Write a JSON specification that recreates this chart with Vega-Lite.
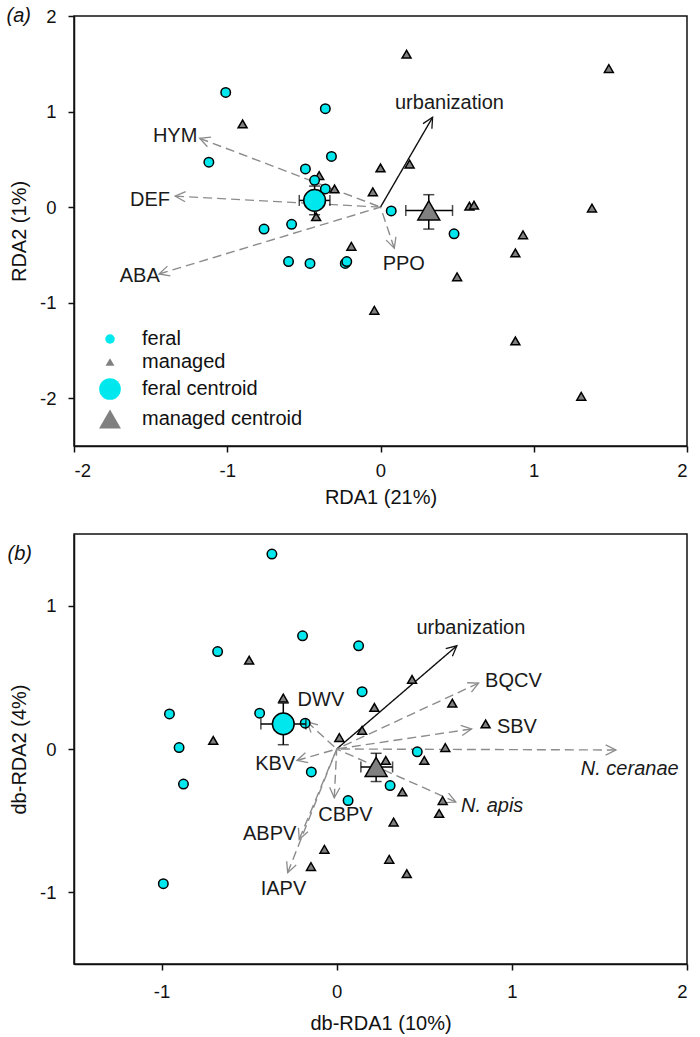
{
  "$schema": "https://vega.github.io/schema/vega-lite/v6.json",
  "padding": {"left": 5, "top": 5, "right": 5, "bottom": 3},
  "background": "white",
  "spacing": 24,
  "resolve": {
    "scale": {"shape": "independent", "fill": "independent", "size": "independent"},
    "legend": {"shape": "independent", "fill": "independent", "size": "independent"}
  },
  "datasets": {
    "ptsA": [
      {"grp": "managed", "x": -0.90, "y": 0.87}, {"grp": "managed", "x": -0.40, "y": 0.33}, {"grp": "managed", "x": -0.30, "y": 0.19},
      {"grp": "managed", "x": -0.42, "y": -0.10}, {"grp": "managed", "x": 0.17, "y": 1.60}, {"grp": "managed", "x": 1.49, "y": 1.45},
      {"grp": "managed", "x": 0.00, "y": 0.41}, {"grp": "managed", "x": 0.19, "y": 0.45}, {"grp": "managed", "x": -0.05, "y": 0.16},
      {"grp": "managed", "x": 0.58, "y": 0.01}, {"grp": "managed", "x": 0.61, "y": 0.02}, {"grp": "managed", "x": 1.38, "y": -0.01},
      {"grp": "managed", "x": 0.93, "y": -0.29}, {"grp": "managed", "x": -0.19, "y": -0.41}, {"grp": "managed", "x": 0.88, "y": -0.48},
      {"grp": "managed", "x": 0.50, "y": -0.73}, {"grp": "managed", "x": -0.04, "y": -1.08}, {"grp": "managed", "x": 0.88, "y": -1.40},
      {"grp": "managed", "x": 1.31, "y": -1.98},
      {"grp": "feral", "x": -1.01, "y": 1.20}, {"grp": "feral", "x": -0.36, "y": 1.03}, {"grp": "feral", "x": -1.12, "y": 0.47},
      {"grp": "feral", "x": -0.32, "y": 0.53}, {"grp": "feral", "x": -0.49, "y": 0.40}, {"grp": "feral", "x": -0.43, "y": 0.28},
      {"grp": "feral", "x": -0.36, "y": 0.19}, {"grp": "feral", "x": -0.76, "y": -0.23}, {"grp": "feral", "x": -0.58, "y": -0.18},
      {"grp": "feral", "x": 0.07, "y": -0.04}, {"grp": "feral", "x": -0.60, "y": -0.57}, {"grp": "feral", "x": -0.46, "y": -0.59},
      {"grp": "feral", "x": -0.23, "y": -0.59}, {"grp": "feral", "x": -0.22, "y": -0.57}, {"grp": "feral", "x": 0.48, "y": -0.28}
    ],
    "centA": [
      {"grp": "feral centroid", "x": -0.43, "y": 0.07, "xlo": -0.53, "xhi": -0.33, "ylo": -0.08, "yhi": 0.22},
      {"grp": "managed centroid", "x": 0.315, "y": -0.035, "xlo": 0.165, "xhi": 0.47, "ylo": -0.23, "yhi": 0.13}
    ],
    "arrA": [
      {"name": "urbanization", "x": 0.34, "y": 0.94}, {"name": "HYM", "x": -1.18, "y": 0.72},
      {"name": "DEF", "x": -1.34, "y": 0.115}, {"name": "ABA", "x": -1.445, "y": -0.70}, {"name": "PPO", "x": 0.09, "y": -0.43}
    ],
    "labA": [
      {"name": "urbanization", "x": 0.45, "y": 1.093}, {"name": "HYM", "x": -1.34, "y": 0.744},
      {"name": "DEF", "x": -1.504, "y": 0.073}, {"name": "ABA", "x": -1.571, "y": -0.723}, {"name": "PPO", "x": 0.152, "y": -0.594}
    ],
    "ptsB": [
      {"grp": "managed", "x": -0.50, "y": 0.62}, {"grp": "managed", "x": -0.305, "y": 0.355}, {"grp": "managed", "x": -0.705, "y": 0.06},
      {"grp": "managed", "x": 0.015, "y": 0.08}, {"grp": "managed", "x": 0.43, "y": 0.485}, {"grp": "managed", "x": 0.215, "y": 0.29},
      {"grp": "managed", "x": 0.145, "y": 0.13}, {"grp": "managed", "x": 0.28, "y": -0.08}, {"grp": "managed", "x": 0.375, "y": -0.30},
      {"grp": "managed", "x": 0.66, "y": 0.32}, {"grp": "managed", "x": 0.85, "y": 0.175}, {"grp": "managed", "x": 0.62, "y": 0.01},
      {"grp": "managed", "x": 0.50, "y": -0.08}, {"grp": "managed", "x": 0.605, "y": -0.36}, {"grp": "managed", "x": 0.585, "y": -0.45},
      {"grp": "managed", "x": 0.325, "y": -0.51}, {"grp": "managed", "x": 0.30, "y": -0.77}, {"grp": "managed", "x": 0.40, "y": -0.87},
      {"grp": "managed", "x": -0.07, "y": -0.70}, {"grp": "managed", "x": -0.147, "y": -0.82},
      {"grp": "feral", "x": -0.37, "y": 1.36}, {"grp": "feral", "x": -0.195, "y": 0.79}, {"grp": "feral", "x": -0.68, "y": 0.68},
      {"grp": "feral", "x": -0.955, "y": 0.245}, {"grp": "feral", "x": -0.90, "y": 0.01}, {"grp": "feral", "x": -0.44, "y": 0.25},
      {"grp": "feral", "x": -0.18, "y": 0.18}, {"grp": "feral", "x": 0.125, "y": 0.72}, {"grp": "feral", "x": 0.145, "y": 0.40},
      {"grp": "feral", "x": 0.46, "y": -0.02}, {"grp": "feral", "x": -0.145, "y": -0.16}, {"grp": "feral", "x": 0.305, "y": -0.255},
      {"grp": "feral", "x": 0.065, "y": -0.36}, {"grp": "feral", "x": -0.875, "y": -0.245}, {"grp": "feral", "x": -0.99, "y": -0.94}
    ],
    "centB": [
      {"grp": "feral centroid", "x": -0.305, "y": 0.175, "xlo": -0.433, "xhi": -0.176, "ylo": 0.03, "yhi": 0.32},
      {"grp": "managed centroid", "x": 0.225, "y": -0.125, "xlo": 0.138, "xhi": 0.319, "ylo": -0.227, "yhi": -0.03}
    ],
    "arrB": [
      {"name": "urbanization", "x": 0.686, "y": 0.72}, {"name": "BQCV", "x": 0.81, "y": 0.46},
      {"name": "SBV", "x": 0.77, "y": 0.14}, {"name": "N. ceranae", "x": 1.594, "y": -0.007},
      {"name": "N. apis", "x": 0.68, "y": -0.37}, {"name": "KBV", "x": -0.227, "y": -0.08},
      {"name": "CBPV", "x": -0.014, "y": -0.34}, {"name": "ABPV", "x": -0.214, "y": -0.63},
      {"name": "IAPV", "x": -0.28, "y": -0.863}, {"name": "DWV", "x": -0.17, "y": 0.19}
    ],
    "labB": [
      {"name": "urbanization", "x": 0.766, "y": 0.846}, {"name": "BQCV", "x": 1.009, "y": 0.473},
      {"name": "SBV", "x": 1.029, "y": 0.156}, {"name": "N. ceranae", "x": 1.673, "y": -0.14},
      {"name": "N. apis", "x": 0.888, "y": -0.397}, {"name": "KBV", "x": -0.351, "y": -0.105},
      {"name": "CBPV", "x": 0.05, "y": -0.462}, {"name": "ABPV", "x": -0.383, "y": -0.594},
      {"name": "IAPV", "x": -0.304, "y": -0.975}, {"name": "DWV", "x": -0.09, "y": 0.345}
    ]
  },
  "vconcat": [
    {
      "width": 613,
      "height": 430,
      "title": {"text": "(a)", "anchor": "start", "frame": "bounds", "offset": -19, "dx": -3, "fontSize": 20, "fontStyle": "italic", "fontWeight": "normal", "font": "Liberation Sans", "color": "#111"},
      "layer": [
        {
          "data": {"name": "arrA"},
          "mark": {"type": "rule", "strokeWidth": 1.4},
          "encoding": {
            "x": {"field": "x", "type": "quantitative", "title": "RDA1 (21%)", "scale": {"domain": [-2, 2], "nice": false, "zero": false},
                  "axis": {"values": [-2, -1, 0, 1, 2], "labelExpr": "datum.value + ''", "labelPadding": 9, "titlePadding": 8}},
            "y": {"field": "y", "type": "quantitative", "title": "RDA2 (1%)", "scale": {"domain": [-2.5, 2], "nice": false, "zero": false},
                  "axis": {"values": [-2, -1, 0, 1, 2], "labelExpr": "datum.value + ''", "labelPadding": 12, "titlePadding": 10}},
            "x2": {"datum": 0},
            "y2": {"datum": 0},
            "stroke": {"condition": {"test": "datum.name === 'urbanization'", "value": "#111"}, "value": "#8c8c8c"},
            "strokeDash": {"condition": {"test": "datum.name === 'urbanization'", "value": [1, 0]}, "value": [9, 5]}
          }
        },
        {
          "data": {"name": "arrA"},
          "transform": [{"calculate": "atan2(datum.x * 153.25, datum.y * 95.56) * 180 / PI", "as": "ang"}],
          "mark": {"type": "point", "shape": "M-0.5,1L0,0L0.5,1", "filled": false, "size": 420, "strokeWidth": 1.3, "opacity": 1},
          "encoding": {
            "x": {"field": "x", "type": "quantitative", "title": "RDA1 (21%)", "scale": {"domain": [-2, 2], "nice": false, "zero": false}},
            "y": {"field": "y", "type": "quantitative", "title": "RDA2 (1%)", "scale": {"domain": [-2.5, 2], "nice": false, "zero": false}},
            "angle": {"field": "ang", "type": "quantitative", "scale": null},
            "stroke": {"condition": {"test": "datum.name === 'urbanization'", "value": "#111"}, "value": "#8c8c8c"}
          }
        },
        {
          "data": {"name": "ptsA"},
          "mark": {"type": "point", "filled": true, "stroke": "black", "strokeWidth": 1.5, "opacity": 1},
          "encoding": {
            "x": {"field": "x", "type": "quantitative", "title": "RDA1 (21%)", "scale": {"domain": [-2, 2], "nice": false, "zero": false}},
            "y": {"field": "y", "type": "quantitative", "title": "RDA2 (1%)", "scale": {"domain": [-2.5, 2], "nice": false, "zero": false}},
            "shape": {"field": "grp", "type": "nominal", "scale": {"domain": ["feral", "managed", "feral centroid", "managed centroid"], "range": ["circle", "triangle-up", "circle", "triangle-up"]},
                      "legend": {"title": null, "orient": "bottom-left", "offset": 14}},
            "fill": {"field": "grp", "type": "nominal", "scale": {"domain": ["feral", "managed", "feral centroid", "managed centroid"], "range": ["#00E8EE", "#808080", "#00E8EE", "#808080"]},
                     "legend": {"title": null, "orient": "bottom-left", "offset": 14}},
            "size": {"field": "grp", "type": "nominal", "scale": {"type": "ordinal", "domain": ["feral", "managed", "feral centroid", "managed centroid"], "range": [90, 80, 470, 480]},
                     "legend": {"title": null, "orient": "bottom-left", "offset": 14}}
          }
        },
        {
          "data": {"name": "centA"},
          "mark": {"type": "errorbar", "ticks": {"size": 11, "thickness": 1.5}, "color": "black", "thickness": 1.5},
          "encoding": {
            "x": {"field": "xlo", "type": "quantitative", "title": "RDA1 (21%)", "scale": {"domain": [-2, 2], "nice": false, "zero": false}},
            "x2": {"field": "xhi"},
            "y": {"field": "y", "type": "quantitative", "title": "RDA2 (1%)", "scale": {"domain": [-2.5, 2], "nice": false, "zero": false}}
          }
        },
        {
          "data": {"name": "centA"},
          "mark": {"type": "errorbar", "ticks": {"size": 11, "thickness": 1.5}, "color": "black", "thickness": 1.5},
          "encoding": {
            "y": {"field": "ylo", "type": "quantitative", "title": "RDA2 (1%)", "scale": {"domain": [-2.5, 2], "nice": false, "zero": false}},
            "y2": {"field": "yhi"},
            "x": {"field": "x", "type": "quantitative", "title": "RDA1 (21%)", "scale": {"domain": [-2, 2], "nice": false, "zero": false}}
          }
        },
        {
          "data": {"name": "centA"},
          "mark": {"type": "point", "filled": true, "stroke": "black", "strokeWidth": 1.5, "opacity": 1},
          "encoding": {
            "x": {"field": "x", "type": "quantitative", "title": "RDA1 (21%)", "scale": {"domain": [-2, 2], "nice": false, "zero": false}},
            "y": {"field": "y", "type": "quantitative", "title": "RDA2 (1%)", "scale": {"domain": [-2.5, 2], "nice": false, "zero": false}},
            "shape": {"field": "grp", "type": "nominal", "scale": {"domain": ["feral", "managed", "feral centroid", "managed centroid"], "range": ["circle", "triangle-up", "circle", "triangle-up"]},
                      "legend": {"title": null, "orient": "bottom-left", "offset": 14}},
            "fill": {"field": "grp", "type": "nominal", "scale": {"domain": ["feral", "managed", "feral centroid", "managed centroid"], "range": ["#00E8EE", "#808080", "#00E8EE", "#808080"]},
                     "legend": {"title": null, "orient": "bottom-left", "offset": 14}},
            "size": {"field": "grp", "type": "nominal", "scale": {"type": "ordinal", "domain": ["feral", "managed", "feral centroid", "managed centroid"], "range": [90, 80, 470, 480]},
                     "legend": {"title": null, "orient": "bottom-left", "offset": 14}}
          }
        },
        {
          "data": {"name": "labA"},
          "mark": {"type": "text", "fontSize": 20, "font": "Liberation Sans", "color": "#1a1a1a", "align": "center", "baseline": "middle"},
          "encoding": {
            "x": {"field": "x", "type": "quantitative", "title": "RDA1 (21%)", "scale": {"domain": [-2, 2], "nice": false, "zero": false}},
            "y": {"field": "y", "type": "quantitative", "title": "RDA2 (1%)", "scale": {"domain": [-2.5, 2], "nice": false, "zero": false}},
            "text": {"field": "name"}
          }
        }
      ]
    },
    {
      "width": 613,
      "height": 430,
      "title": {"text": "(b)", "anchor": "start", "frame": "bounds", "offset": -30, "dx": -2, "fontSize": 20, "fontStyle": "italic", "fontWeight": "normal", "font": "Liberation Sans", "color": "#111"},
      "layer": [
        {
          "data": {"name": "arrB"},
          "mark": {"type": "rule", "strokeWidth": 1.4},
          "encoding": {
            "x": {"field": "x", "type": "quantitative", "title": "db-RDA1 (10%)", "scale": {"domain": [-1.5, 2], "nice": false, "zero": false},
                  "axis": {"values": [-1, 0, 1, 2], "labelExpr": "datum.value + ''", "labelPadding": 12, "titlePadding": 13}},
            "y": {"field": "y", "type": "quantitative", "title": "db-RDA2 (4%)", "scale": {"domain": [-1.5, 1.5], "nice": false, "zero": false},
                  "axis": {"values": [-1, 0, 1], "labelExpr": "datum.value + ''", "labelPadding": 12, "titlePadding": 10}},
            "x2": {"datum": 0},
            "y2": {"datum": 0},
            "stroke": {"condition": {"test": "datum.name === 'urbanization'", "value": "#111"}, "value": "#8c8c8c"},
            "strokeDash": {"condition": {"test": "datum.name === 'urbanization'", "value": [1, 0]}, "value": [9, 5]}
          }
        },
        {
          "data": {"name": "arrB"},
          "transform": [{"calculate": "atan2(datum.x * 175.14, datum.y * 143.33) * 180 / PI", "as": "ang"}],
          "mark": {"type": "point", "shape": "M-0.5,1L0,0L0.5,1", "filled": false, "size": 420, "strokeWidth": 1.3, "opacity": 1},
          "encoding": {
            "x": {"field": "x", "type": "quantitative", "title": "db-RDA1 (10%)", "scale": {"domain": [-1.5, 2], "nice": false, "zero": false}},
            "y": {"field": "y", "type": "quantitative", "title": "db-RDA2 (4%)", "scale": {"domain": [-1.5, 1.5], "nice": false, "zero": false}},
            "angle": {"field": "ang", "type": "quantitative", "scale": null},
            "stroke": {"condition": {"test": "datum.name === 'urbanization'", "value": "#111"}, "value": "#8c8c8c"}
          }
        },
        {
          "data": {"name": "ptsB"},
          "mark": {"type": "point", "filled": true, "stroke": "black", "strokeWidth": 1.5, "opacity": 1},
          "encoding": {
            "x": {"field": "x", "type": "quantitative", "title": "db-RDA1 (10%)", "scale": {"domain": [-1.5, 2], "nice": false, "zero": false}},
            "y": {"field": "y", "type": "quantitative", "title": "db-RDA2 (4%)", "scale": {"domain": [-1.5, 1.5], "nice": false, "zero": false}},
            "shape": {"field": "grp", "type": "nominal", "scale": {"domain": ["feral", "managed", "feral centroid", "managed centroid"], "range": ["circle", "triangle-up", "circle", "triangle-up"]}, "legend": null},
            "fill": {"field": "grp", "type": "nominal", "scale": {"domain": ["feral", "managed", "feral centroid", "managed centroid"], "range": ["#00E8EE", "#808080", "#00E8EE", "#808080"]}, "legend": null},
            "size": {"field": "grp", "type": "nominal", "scale": {"type": "ordinal", "domain": ["feral", "managed", "feral centroid", "managed centroid"], "range": [90, 80, 470, 480]}, "legend": null}
          }
        },
        {
          "data": {"name": "centB"},
          "mark": {"type": "errorbar", "ticks": {"size": 11, "thickness": 1.5}, "color": "black", "thickness": 1.5},
          "encoding": {
            "x": {"field": "xlo", "type": "quantitative", "title": "db-RDA1 (10%)", "scale": {"domain": [-1.5, 2], "nice": false, "zero": false}},
            "x2": {"field": "xhi"},
            "y": {"field": "y", "type": "quantitative", "title": "db-RDA2 (4%)", "scale": {"domain": [-1.5, 1.5], "nice": false, "zero": false}}
          }
        },
        {
          "data": {"name": "centB"},
          "mark": {"type": "errorbar", "ticks": {"size": 11, "thickness": 1.5}, "color": "black", "thickness": 1.5},
          "encoding": {
            "y": {"field": "ylo", "type": "quantitative", "title": "db-RDA2 (4%)", "scale": {"domain": [-1.5, 1.5], "nice": false, "zero": false}},
            "y2": {"field": "yhi"},
            "x": {"field": "x", "type": "quantitative", "title": "db-RDA1 (10%)", "scale": {"domain": [-1.5, 2], "nice": false, "zero": false}}
          }
        },
        {
          "data": {"name": "centB"},
          "mark": {"type": "point", "filled": true, "stroke": "black", "strokeWidth": 1.5, "opacity": 1},
          "encoding": {
            "x": {"field": "x", "type": "quantitative", "title": "db-RDA1 (10%)", "scale": {"domain": [-1.5, 2], "nice": false, "zero": false}},
            "y": {"field": "y", "type": "quantitative", "title": "db-RDA2 (4%)", "scale": {"domain": [-1.5, 1.5], "nice": false, "zero": false}},
            "shape": {"field": "grp", "type": "nominal", "scale": {"domain": ["feral", "managed", "feral centroid", "managed centroid"], "range": ["circle", "triangle-up", "circle", "triangle-up"]}, "legend": null},
            "fill": {"field": "grp", "type": "nominal", "scale": {"domain": ["feral", "managed", "feral centroid", "managed centroid"], "range": ["#00E8EE", "#808080", "#00E8EE", "#808080"]}, "legend": null},
            "size": {"field": "grp", "type": "nominal", "scale": {"type": "ordinal", "domain": ["feral", "managed", "feral centroid", "managed centroid"], "range": [90, 80, 470, 480]}, "legend": null}
          }
        },
        {
          "data": {"name": "labB"},
          "transform": [{"filter": "datum.name !== 'N. ceranae' && datum.name !== 'N. apis'"}],
          "mark": {"type": "text", "fontSize": 20, "font": "Liberation Sans", "color": "#1a1a1a", "align": "center", "baseline": "middle"},
          "encoding": {
            "x": {"field": "x", "type": "quantitative", "title": "db-RDA1 (10%)", "scale": {"domain": [-1.5, 2], "nice": false, "zero": false}},
            "y": {"field": "y", "type": "quantitative", "title": "db-RDA2 (4%)", "scale": {"domain": [-1.5, 1.5], "nice": false, "zero": false}},
            "text": {"field": "name"}
          }
        },
        {
          "data": {"name": "labB"},
          "transform": [{"filter": "datum.name === 'N. ceranae' || datum.name === 'N. apis'"}],
          "mark": {"type": "text", "fontSize": 20, "font": "Liberation Sans", "fontStyle": "italic", "color": "#1a1a1a", "align": "center", "baseline": "middle"},
          "encoding": {
            "x": {"field": "x", "type": "quantitative", "title": "db-RDA1 (10%)", "scale": {"domain": [-1.5, 2], "nice": false, "zero": false}},
            "y": {"field": "y", "type": "quantitative", "title": "db-RDA2 (4%)", "scale": {"domain": [-1.5, 1.5], "nice": false, "zero": false}},
            "text": {"field": "name"}
          }
        }
      ]
    }
  ],
  "config": {
    "font": "Liberation Sans",
    "view": {"stroke": "#111", "strokeWidth": 1.5},
    "axis": {
      "grid": false, "domainColor": "#111", "domainWidth": 1.5, "tickColor": "#111", "tickWidth": 1.5, "tickSize": 6,
      "labelFontSize": 18.5, "labelColor": "#111", "labelFont": "Liberation Sans",
      "titleFontSize": 20, "titleFontWeight": "normal", "titleColor": "#111", "titleFont": "Liberation Sans"
    },
    "legend": {
      "labelFontSize": 20, "labelColor": "#111", "labelFont": "Liberation Sans", "labelOffset": 20, "labelLimit": 400,
      "symbolStrokeColor": "black", "symbolStrokeWidth": 1.5, "rowPadding": 3, "padding": 0, "symbolOffset": 10
    }
  }
}
